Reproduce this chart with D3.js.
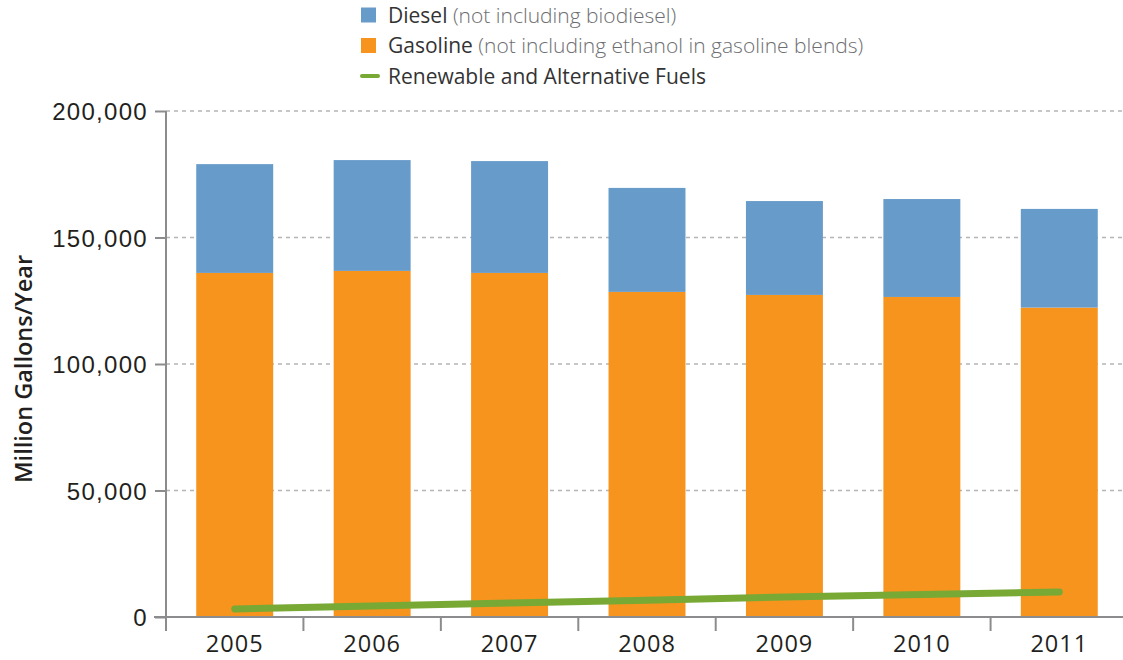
<!DOCTYPE html>
<html>
<head>
<meta charset="utf-8">
<script src="https://cdn.jsdelivr.net/npm/d3@7"></script>
<style>
  body { margin: 0; background: #fff; }
  svg { display: block; font-family: "Open Sans", sans-serif; }
</style>
</head>
<body>
<div id="chart"></div>
<script>
// data (million gallons / year)
const years = ["2005", "2006", "2007", "2008", "2009", "2010", "2011"];
const gasoline = [136000, 136800, 136000, 128500, 127300, 126500, 122300];
const diesel = [43000, 43800, 44200, 41100, 37100, 38700, 39000];
const renewable = [3200, 4300, 5500, 6600, 7900, 8900, 9900];
const yTicks = [0, 50000, 100000, 150000, 200000];

const W = 1123, H = 660;
const margin = { top: 111, right: -5, bottom: 43, left: 166 };
const colors = { diesel: "#679bc9", gasoline: "#f7941e", renewable: "#78a935", axis: "#8c8c8f", text: "#231f20" };

const svg = d3.select("#chart").append("svg")
  .attr("width", W).attr("height", H);

const x = d3.scaleBand()
  .domain(years)
  .range([margin.left, W - margin.right])
  .paddingInner(0.44)
  .paddingOuter(0.22);

const y = d3.scaleLinear()
  .domain([0, 200000])
  .range([H - margin.bottom, margin.top]);

// gridlines
svg.append("g")
  .selectAll("line")
  .data(yTicks.filter(d => d > 0))
  .join("line")
  .attr("x1", margin.left).attr("x2", W)
  .attr("y1", d => y(d)).attr("y2", d => y(d))
  .attr("stroke", "#b5b5b5")
  .attr("stroke-width", 1.3)
  .attr("stroke-dasharray", "4,4");

// stacked bars
const rows = years.map((yr, i) => ({ year: yr, gasoline: gasoline[i], diesel: diesel[i] }));
const stack = d3.stack().keys(["gasoline", "diesel"]);
const layers = stack(rows);

svg.append("g")
  .selectAll("g")
  .data(layers)
  .join("g")
  .attr("fill", d => colors[d.key])
  .selectAll("rect")
  .data(d => d)
  .join("rect")
  .attr("x", d => x(d.data.year))
  .attr("width", x.bandwidth())
  .attr("y", d => y(d[1]))
  .attr("height", d => y(d[0]) - y(d[1]));

// y axis
const yAxis = svg.append("g")
  .attr("transform", `translate(${margin.left},0)`)
  .call(d3.axisLeft(y).tickValues(yTicks).tickFormat(d3.format(",")).tickSize(11).tickPadding(7).tickSizeOuter(0));
yAxis.select(".domain").remove();
yAxis.selectAll(".tick line").attr("stroke", colors.axis).attr("stroke-width", 2);
yAxis.selectAll("text")
  .attr("fill", colors.text)
  .style("font-size", "24px")
  .style("letter-spacing", "1.3px")
  .attr("dy", "0.36em");
yAxis.append("line")
  .attr("x1", 0).attr("x2", 0)
  .attr("y1", y(200000)).attr("y2", y(0) + 14)
  .attr("stroke", colors.axis).attr("stroke-width", 2);

// x axis
const xAxis = svg.append("g");
xAxis.append("line")
  .attr("x1", margin.left - 12).attr("x2", W)
  .attr("y1", y(0)).attr("y2", y(0))
  .attr("stroke", colors.axis).attr("stroke-width", 2);
xAxis.selectAll(".sep")
  .data(years.slice(1))
  .join("line")
  .attr("class", "sep")
  .attr("x1", d => x(d) - x.step() * x.paddingInner() / 2)
  .attr("x2", d => x(d) - x.step() * x.paddingInner() / 2)
  .attr("y1", y(0)).attr("y2", y(0) + 14)
  .attr("stroke", colors.axis).attr("stroke-width", 2);
xAxis.selectAll("text")
  .data(years)
  .join("text")
  .attr("x", d => x(d) + x.bandwidth() / 2)
  .attr("y", 652)
  .attr("text-anchor", "middle")
  .attr("fill", colors.text)
  .style("font-size", "23.5px")
  .style("letter-spacing", "1px")
  .text(d => d);

// renewable line
const line = d3.line()
  .x((d, i) => x(years[i]) + x.bandwidth() / 2)
  .y(d => y(d));

svg.append("path")
  .datum(renewable)
  .attr("d", line)
  .attr("fill", "none")
  .attr("stroke", colors.renewable)
  .attr("stroke-width", 7)
  .attr("stroke-linecap", "round");

// y title
svg.append("text")
  .attr("transform", `translate(32,${(y(0) + y(200000)) / 2 + 5}) rotate(-90)`)
  .attr("text-anchor", "middle")
  .attr("fill", colors.text)
  .style("font-size", "23.5px")
  .style("font-weight", 600)
  .text("Million Gallons/Year");

// legend
const legendItems = [
  { key: "diesel", name: "Diesel", note: " (not including biodiesel)", type: "rect" },
  { key: "gasoline", name: "Gasoline", note: " (not including ethanol in gasoline blends)", type: "rect" },
  { key: "renewable", name: "Renewable and Alternative Fuels", note: "", type: "line" }
];
const legend = svg.append("g").attr("transform", "translate(361,15)");
const li = legend.selectAll("g")
  .data(legendItems)
  .join("g")
  .attr("transform", (d, i) => `translate(0,${i * 30.5})`);
li.filter(d => d.type === "rect").append("rect")
  .attr("x", 0).attr("y", -7.5).attr("width", 15).attr("height", 15)
  .attr("fill", d => colors[d.key]);
li.filter(d => d.type === "line").append("line")
  .attr("x1", 1).attr("x2", 17).attr("y1", 0).attr("y2", 0)
  .attr("stroke", d => colors[d.key]).attr("stroke-width", 4).attr("stroke-linecap", "round");
const lt = li.append("text")
  .attr("x", 27).attr("y", 0).attr("dy", "0.36em")
  .style("font-size", "21px");
lt.append("tspan").attr("fill", "#333").text(d => d.name);
lt.append("tspan").attr("fill", "#6d6e71").style("font-weight", 300).text(d => d.note);
</script>
</body>
</html>
